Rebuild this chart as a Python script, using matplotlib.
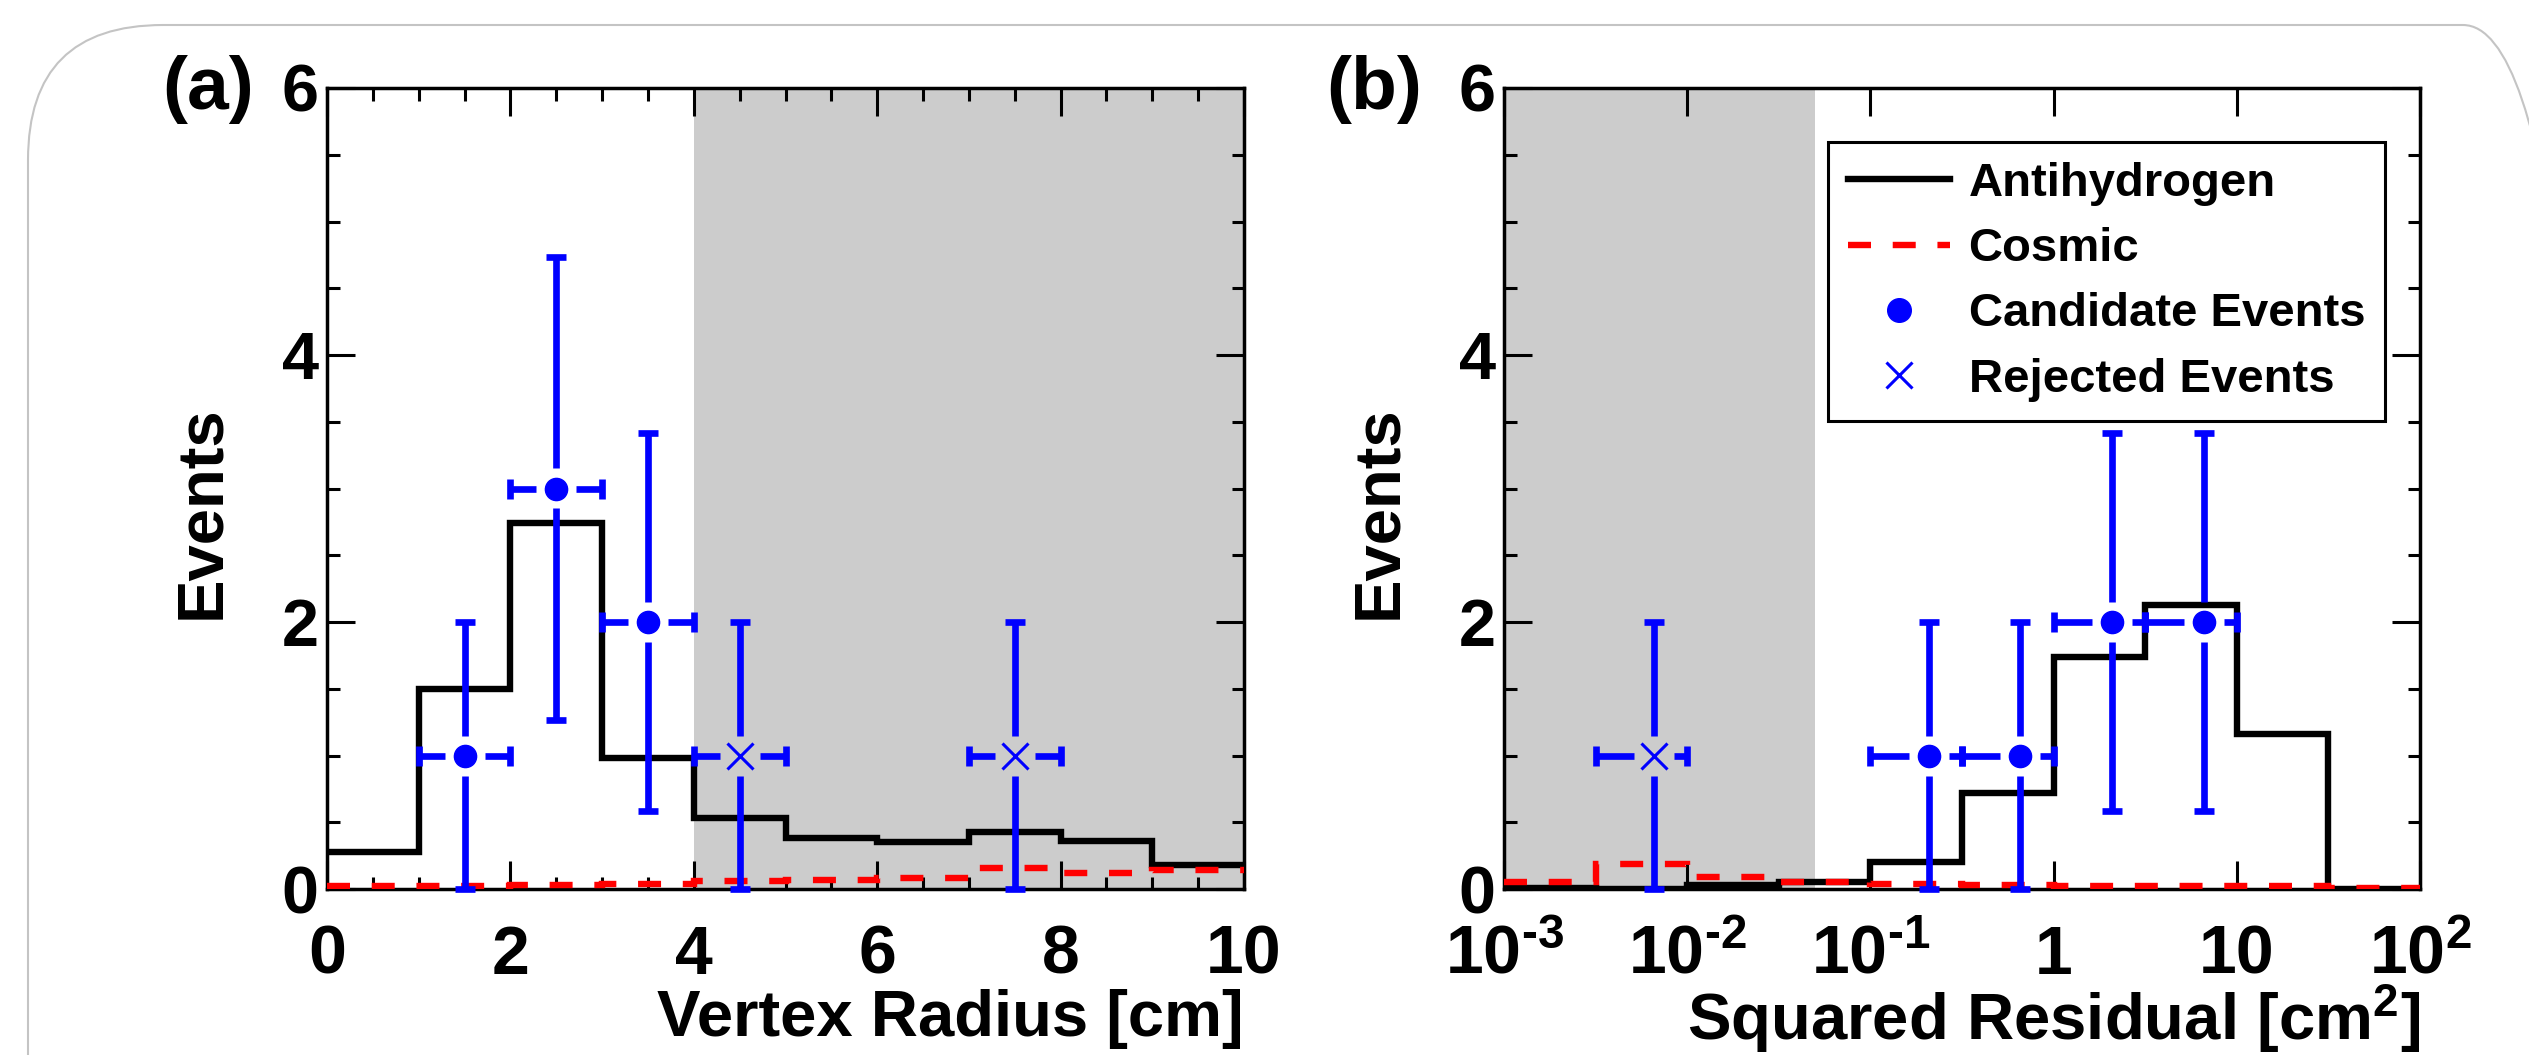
import numpy as np
import matplotlib
matplotlib.use('Agg')
import matplotlib.pyplot as plt
from matplotlib.lines import Line2D
from matplotlib.patches import FancyBboxPatch
from matplotlib.transforms import IdentityTransform
from matplotlib.ticker import MultipleLocator, LogLocator, NullFormatter

plt.rcParams['font.family'] = ['Liberation Sans', 'DejaVu Sans']
plt.rcParams['font.weight'] = 'bold'
plt.rcParams['axes.labelweight'] = 'bold'
plt.rcParams['mathtext.fontset'] = 'custom'
plt.rcParams['mathtext.rm'] = 'Liberation Sans:bold'
plt.rcParams['mathtext.it'] = 'Liberation Sans:bold'
plt.rcParams['mathtext.bf'] = 'Liberation Sans:bold'
plt.rcParams['mathtext.default'] = 'rm'

# panel (a): vertex radius, 1 cm bins
radius_edges = np.arange(0, 11, 1)
radius_hbar = [0.28, 1.5, 2.74, 0.98, 0.53, 0.38, 0.35, 0.43, 0.36, 0.18]
radius_cosmic = [0.02, 0.02, 0.03, 0.04, 0.06, 0.07, 0.08, 0.16, 0.12, 0.14]
radius_cand_bin = [1, 2, 3]
radius_cand_n = [1, 3, 2]
radius_rej_bin = [4, 7]
radius_rej_n = [1, 1]
radius_cut = (4, 10)

# panel (b): squared residual, half-decade bins
resid_edges = 10.0 ** np.arange(-3, 2.5, 0.5)
resid_hbar = [0.01, 0.0, 0.03, 0.05, 0.2, 0.72, 1.74, 2.13, 1.16, 0.0]
resid_cosmic = [0.055, 0.19, 0.09, 0.055, 0.04, 0.03, 0.02, 0.02, 0.02, 0.005]
resid_cand_bin = [4, 5, 6, 7]
resid_cand_n = [1, 1, 2, 2]
resid_rej_bin = [1]
resid_rej_n = [1]
resid_cut = (1e-3, 0.05)
resid_ticks = [1e-3, 1e-2, 1e-1, 1, 10, 100]
resid_ticklabels = [r'$10^{\text{-}3}$', r'$10^{\text{-}2}$', r'$10^{\text{-}1}$',
                    '1', '10', '$10^{2}$']

legend_labels = ['Antihydrogen', 'Cosmic', 'Candidate Events', 'Rejected Events']

W, H = 2529, 1055
GAP = 20   # px between marker and error bar
LW = 4.6
RED_LW = 4.6
DASH = (0, (3.6, 3.4))
EB_LW = 4.8


def draw_point(ax, edges, b, n, marker):
    lo, hi = edges[b], edges[b + 1]
    x = 0.5 * (lo + hi)
    err = np.sqrt(n)
    px, py = ax.transData.transform((x, n))
    inv = ax.transData.inverted()
    x_left = inv.transform((px - GAP, py))[0]
    x_right = inv.transform((px + GAP, py))[0]
    y_below = inv.transform((px, py - GAP))[1]
    y_above = inv.transform((px, py + GAP))[1]
    kw = dict(color='blue', lw=EB_LW, solid_capstyle='butt', clip_on=False, zorder=6)
    ax.plot([lo, x_left], [n, n], **kw)
    ax.plot([x_right, hi], [n, n], **kw)
    ax.plot([x, x], [n - err, y_below], **kw)
    ax.plot([x, x], [y_above, n + err], **kw)
    ax.plot([lo, hi], [n, n], ls='none', marker='|', ms=14, mew=EB_LW,
            color='blue', clip_on=False, zorder=6)
    ax.plot([x, x], [n - err, n + err], ls='none', marker='_', ms=14, mew=EB_LW,
            color='blue', clip_on=False, zorder=6)
    if marker == 'o':
        ax.plot(x, n, 'o', ms=16, color='blue', zorder=7)
    else:
        ax.plot(x, n, 'x', ms=19, mew=2.2, color='blue', zorder=7)


def setup(ax):
    ax.set_ylim(0, 6)
    ax.yaxis.set_major_locator(MultipleLocator(2))
    ax.yaxis.set_minor_locator(MultipleLocator(0.5))
    ax.tick_params(which='both', direction='in', top=True, right=True, width=2.2)
    ax.tick_params(which='major', length=20)
    ax.tick_params(which='minor', length=9)
    ax.tick_params(axis='x', pad=61, labelsize=49)
    ax.tick_params(axis='y', pad=6, labelsize=48)
    for s in ax.spines.values():
        s.set_linewidth(2.5)
    ax.set_ylabel('Events', fontsize=47, fontweight='bold', va='center')
    ax.yaxis.set_label_coords(-0.136, 0.47)


fig = plt.figure(figsize=(W / 100, H / 100), dpi=100)
fig.patch.set_facecolor('white')
ax_a = fig.add_axes([327 / W, 1 - 889 / H, 917 / W, 801 / H])
ax_b = fig.add_axes([1504 / W, 1 - 889 / H, 916 / W, 801 / H])

# ---- panel (a)
setup(ax_a)
ax_a.set_xlim(0, 10)
ax_a.xaxis.set_major_locator(MultipleLocator(2))
ax_a.xaxis.set_minor_locator(MultipleLocator(0.5))
ax_a.axvspan(*radius_cut, color='#cccccc', lw=0, zorder=0)
ax_a.stairs(radius_hbar, radius_edges, baseline=None, color='black', lw=LW, zorder=3)
ax_a.stairs(radius_cosmic, radius_edges, baseline=None, color='red', lw=RED_LW,
            linestyle=DASH, zorder=4)
for b, n in zip(radius_cand_bin, radius_cand_n):
    draw_point(ax_a, radius_edges, b, n, 'o')
for b, n in zip(radius_rej_bin, radius_rej_n):
    draw_point(ax_a, radius_edges, b, n, 'x')
ax_a.set_xlabel('Vertex Radius [cm]', fontsize=47, fontweight='bold',
                ha='right', va='baseline')
ax_a.xaxis.set_label_coords(1.0, (889 - 1036) / 801)

# ---- panel (b)
setup(ax_b)
ax_b.set_xscale('log')
ax_b.set_xlim(1e-3, 1e2)
ax_b.set_xticks(resid_ticks, resid_ticklabels)
ax_b.xaxis.set_minor_locator(LogLocator(base=10, subs=np.arange(2, 10)))
ax_b.xaxis.set_minor_formatter(NullFormatter())
ax_b.axvspan(*resid_cut, color='#cccccc', lw=0, zorder=0)
ax_b.stairs(resid_hbar, resid_edges, baseline=None, color='black', lw=LW, zorder=3)
ax_b.stairs(resid_cosmic, resid_edges, baseline=None, color='red', lw=RED_LW,
            linestyle=DASH, zorder=4)
for b, n in zip(resid_cand_bin, resid_cand_n):
    draw_point(ax_b, resid_edges, b, n, 'o')
for b, n in zip(resid_rej_bin, resid_rej_n):
    draw_point(ax_b, resid_edges, b, n, 'x')
ax_b.set_xlabel('Squared Residual [cm$^{2}$]', fontsize=47, fontweight='bold',
                ha='right', va='baseline')
ax_b.xaxis.set_label_coords(1.0, (889 - 1040) / 801)

for ax in (ax_a, ax_b):
    for lbl in ax.get_xticklabels():
        lbl.set_verticalalignment('baseline')

handles = [Line2D([], [], color='black', lw=LW),
           Line2D([], [], color='red', lw=RED_LW, ls=DASH),
           Line2D([], [], color='blue', marker='o', ls='none', ms=17),
           Line2D([], [], color='blue', marker='x', ls='none', ms=19, mew=2.2)]
leg = ax_b.legend(handles, legend_labels, loc='upper right',
                  bbox_to_anchor=((2385 - 1504) / 916, (889 - 142) / 801),
                  fontsize=34, frameon=True, fancybox=False, edgecolor='black',
                  framealpha=1, handlelength=2.15, handletextpad=0.4,
                  borderpad=0.42, labelspacing=0.45, borderaxespad=0)
leg.get_frame().set_linewidth(2.2)

fig.text(162 / W, 1 - 109 / H, '(a)', fontsize=54, weight='bold', ha='left', va='baseline')
fig.text(1326 / W, 1 - 109 / H, '(b)', fontsize=54, weight='bold', ha='left', va='baseline')

# rounded page frame, running off the right and bottom edges
frame = FancyBboxPatch((28, -300), 2570, 1330, boxstyle='round,pad=0,rounding_size=135',
                       transform=IdentityTransform(), fill=False, ec='#c4c4c4', lw=1.5)
fig.add_artist(frame)

fig.savefig('out.png', dpi=100)
